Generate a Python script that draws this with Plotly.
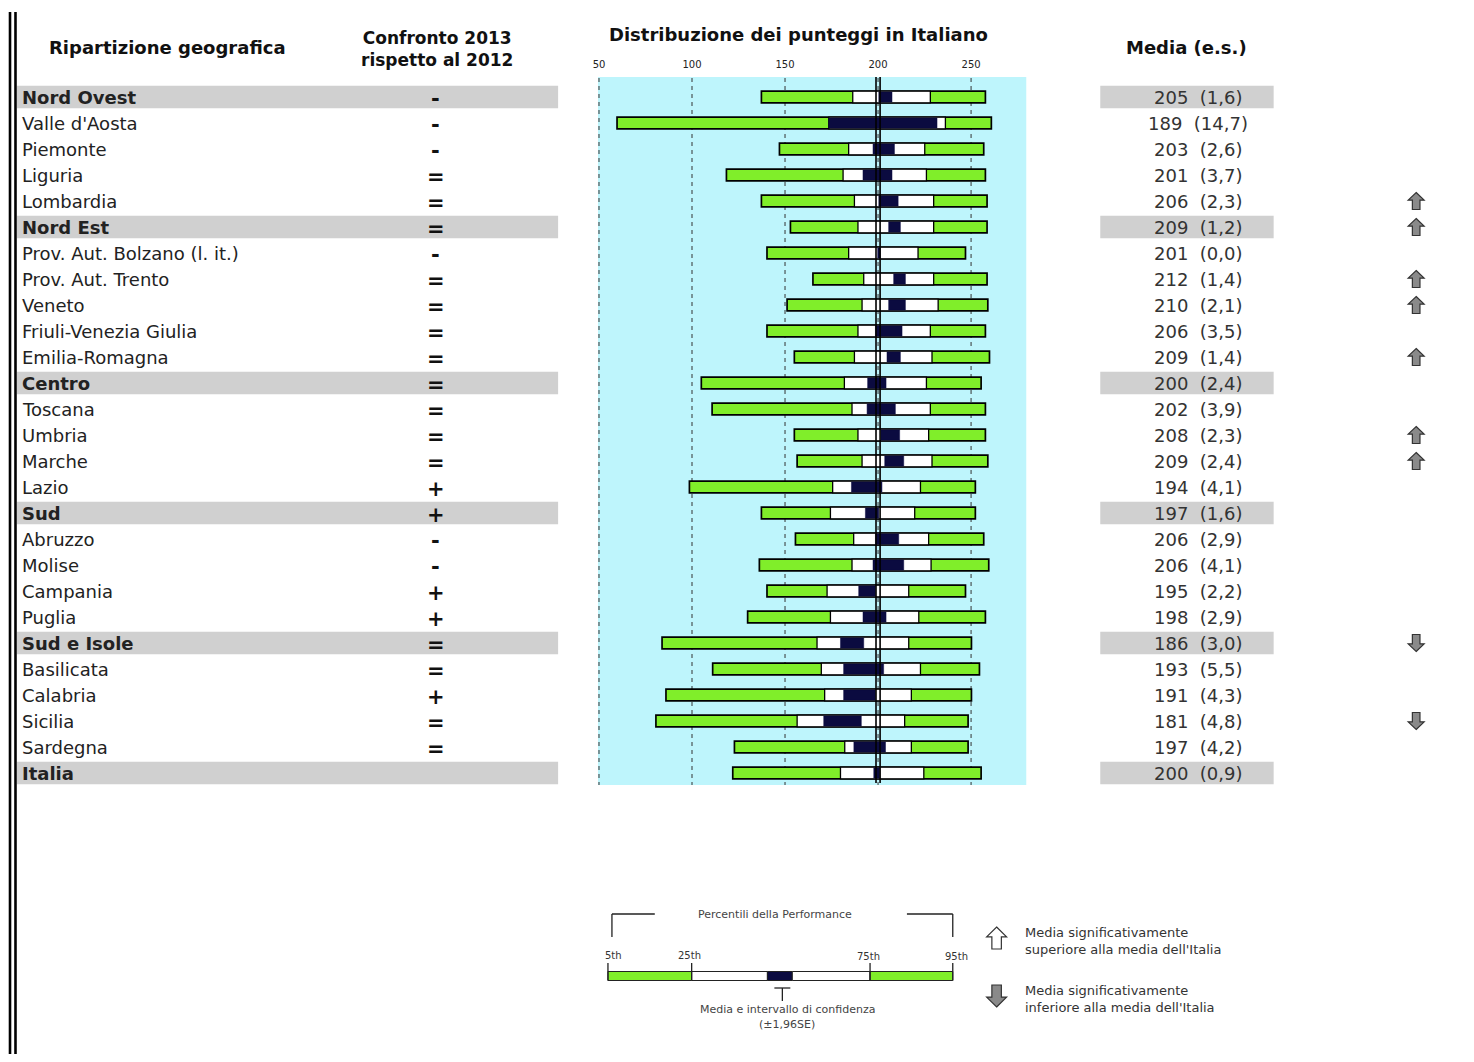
import plotly.graph_objects as go

# page size in pixels, rows are 26px apart starting at y=97
W, H = 1474, 1062
OFF = 8                      # browser body margin
FIG_W, FIG_H = W - 2 * OFF, H - 2 * OFF
ROW0, ROW_H = 97, 26

regions = ["Nord Ovest", "Valle d'Aosta", "Piemonte", "Liguria", "Lombardia",
           "Nord Est", "Prov. Aut. Bolzano (l. it.)", "Prov. Aut. Trento", "Veneto",
           "Friuli-Venezia Giulia", "Emilia-Romagna", "Centro", "Toscana", "Umbria",
           "Marche", "Lazio", "Sud", "Abruzzo", "Molise", "Campania", "Puglia",
           "Sud e Isole", "Basilicata", "Calabria", "Sicilia", "Sardegna", "Italia"]
macro = ["Nord Ovest", "Nord Est", "Centro", "Sud", "Sud e Isole", "Italia"]
confronto = ["-", "-", "-", "=", "=", "=", "-", "=", "=", "=", "=", "=", "=", "=",
             "=", "+", "+", "-", "-", "+", "+", "=", "=", "+", "=", "=", ""]
media = [205, 189, 203, 201, 206, 209, 201, 212, 210, 206, 209, 200, 202, 208, 209,
         194, 197, 206, 206, 195, 198, 186, 193, 191, 181, 197, 200]
es = ["1,6", "14,7", "2,6", "3,7", "2,3", "1,2", "0,0", "1,4", "2,1", "3,5", "1,4",
      "2,4", "3,9", "2,3", "2,4", "4,1", "1,6", "2,9", "4,1", "2,2", "2,9", "3,0",
      "5,5", "4,3", "4,8", "4,2", "0,9"]
# percentiles and confidence interval
p5 = [137.3, 59.7, 147.0, 118.5, 137.3, 152.9, 140.3, 165.0, 151.1, 140.3, 155.0,
      105.0, 110.8, 155.0, 156.5, 98.6, 137.3, 155.6, 136.2, 140.3, 129.9, 83.9,
      111.1, 86.0, 80.6, 122.8, 121.9]
p25 = [186.4, 173.5, 184.2, 181.2, 187.3, 189.2, 184.2, 192.3, 191.4, 189.2, 187.3,
       181.9, 186.0, 189.2, 191.4, 175.6, 174.4, 186.9, 186.0, 172.6, 174.4, 167.2,
       169.5, 171.3, 156.5, 182.1, 179.8]
ci_lo = [200.4, 173.5, 197.3, 191.9, 200.4, 205.7, 199.8, 208.4, 205.7, 198.6, 204.8,
         194.4, 194.1, 201.6, 203.6, 185.7, 193.2, 198.6, 197.3, 189.6, 191.9, 179.8,
         181.5, 181.5, 170.8, 187.0, 197.7]
ci_hi = [207.5, 231.7, 208.8, 207.5, 210.8, 212.0, 201.2, 214.7, 214.7, 212.9, 212.0,
         204.3, 209.3, 211.6, 213.8, 202.1, 200.4, 211.1, 213.8, 198.6, 204.3, 192.3,
         203.0, 198.6, 191.0, 204.0, 200.9]
p75 = [228.1, 236.2, 225.1, 226.0, 229.9, 229.9, 221.5, 229.9, 232.3, 228.1, 229.0,
       226.0, 228.1, 227.2, 229.0, 222.8, 219.7, 227.2, 228.5, 216.5, 221.9, 216.5,
       222.8, 217.9, 214.3, 217.9, 224.6]
p95 = [257.7, 260.9, 256.8, 257.7, 258.6, 258.6, 247.0, 258.6, 259.0, 257.7, 259.9,
       255.4, 257.7, 257.7, 259.0, 252.3, 252.3, 256.8, 259.5, 247.0, 257.7, 250.2,
       254.5, 250.2, 248.4, 248.4, 255.4]
signif = ["", "", "", "", "up", "up", "", "up", "up", "", "up", "", "", "up", "up",
          "", "", "", "", "", "", "down", "", "", "down", "", ""]
tick_vals = [50, 100, 150, 200, 250]
italia_mean = 200

GREEN = "#80ee2a"
NAVY = "#0b0b40"
CYAN = "#bef5fc"
GREYBAND = "#d0d0d0"
FONT = "DejaVu Sans"

rows = list(range(len(regions)))


def px(x):
    return (x - OFF) / FIG_W


def py(y):
    return 1 - (y - OFF) / FIG_H


def row(y):
    return (y - ROW0) / ROW_H


fig = go.Figure()

# bars: green 5-95, white 25-75, navy CI
fig.add_trace(go.Bar(y=rows, base=p5, x=[b - a for a, b in zip(p5, p95)],
                     orientation="h", width=0.45, hoverinfo="skip",
                     marker=dict(color=GREEN, line=dict(color="black", width=1.7))))
fig.add_trace(go.Bar(y=rows, base=p25, x=[b - a for a, b in zip(p25, p75)],
                     orientation="h", width=0.45, hoverinfo="skip",
                     marker=dict(color="white", line=dict(color="black", width=1.3))))
fig.add_trace(go.Bar(y=rows, base=ci_lo, x=[b - a for a, b in zip(ci_lo, ci_hi)],
                     orientation="h", width=0.39, hoverinfo="skip",
                     marker=dict(color=NAVY, line=dict(color=NAVY, width=0.5))))

shapes = []
# cyan panel
shapes.append(dict(type="rect", xref="x", yref="y", x0=49.46, x1=279.8,
                   y0=row(77), y1=row(785), fillcolor=CYAN, line_width=0, layer="below"))
for t in tick_vals:
    shapes.append(dict(type="line", xref="x", yref="y", x0=t, x1=t, y0=row(78), y1=row(785),
                       line=dict(color="#333", width=1, dash="4px,4px"), layer="below"))
# Italy mean double line
for dx in (-1.1, 1.1):
    shapes.append(dict(type="line", xref="x", yref="y", x0=italia_mean + dx, x1=italia_mean + dx,
                       y0=row(77), y1=row(783), line=dict(color="black", width=1.6)))

# grey bands on macro regions
for i, r in enumerate(regions):
    if r in macro:
        for x0, x1 in ((12, 555), (1099, 1273)):
            shapes.append(dict(type="rect", xref="paper", yref="y", x0=px(x0), x1=px(x1),
                               y0=i - 0.43, y1=i + 0.43, fillcolor=GREYBAND, line_width=0,
                               layer="below"))

# left double border
for x in (5, 10.5):
    shapes.append(dict(type="line", xref="paper", yref="paper", x0=px(x), x1=px(x),
                       y0=py(12), y1=py(H + 20), line=dict(color="black", width=2.6)))


def block_arrow(cx, cy, w, h, up, fill, ref):
    # cx, cy, w, h in pixels
    hw, sw = w / 2, w / 4.2
    if up:
        pts = [(cx, cy - h / 2), (cx + hw, cy - h / 2 + h * 0.45), (cx + sw, cy - h / 2 + h * 0.45),
               (cx + sw, cy + h / 2), (cx - sw, cy + h / 2), (cx - sw, cy - h / 2 + h * 0.45),
               (cx - hw, cy - h / 2 + h * 0.45)]
    else:
        pts = [(cx, cy + h / 2), (cx + hw, cy + h / 2 - h * 0.45), (cx + sw, cy + h / 2 - h * 0.45),
               (cx + sw, cy - h / 2), (cx - sw, cy - h / 2), (cx - sw, cy + h / 2 - h * 0.45),
               (cx - hw, cy + h / 2 - h * 0.45)]
    if ref == "y":
        conv = [(px(x), row(y)) for x, y in pts]
    else:
        conv = [(px(x), py(y)) for x, y in pts]
    path = "M " + " L ".join(f"{a:.5f},{b:.5f}" for a, b in conv) + " Z"
    return dict(type="path", xref="paper", yref=ref, path=path, fillcolor=fill,
                line=dict(color="#333", width=1.2))


for i, s in enumerate(signif):
    if s:
        shapes.append(block_arrow(1416, ROW0 + ROW_H * i, 16, 17, s == "up", "#8a8a8a", "y"))

# legend graphic
lg = [((609, 914), (609, 937)), ((609, 914), (652, 914)), ((905, 914), (951, 914)),
      ((951, 914), (951, 937)), ((780, 988), (780, 1001)), ((772, 988), (788, 988))]
for (x0, y0), (x1, y1) in lg:
    shapes.append(dict(type="line", xref="paper", yref="paper", x0=px(x0), x1=px(x1),
                       y0=py(y0), y1=py(y1), line=dict(color="#222", width=1.3)))
for x0, x1, c in ((605, 689, GREEN), (689, 765, "white"), (765, 790, NAVY),
                  (790, 868, "white"), (868, 951, GREEN)):
    shapes.append(dict(type="rect", xref="paper", yref="paper", x0=px(x0), x1=px(x1),
                       y0=py(980.5), y1=py(971.5), fillcolor=c, line=dict(color="#222", width=1)))
for x, ytop in ((605, 963), (689, 963), (868, 963), (951, 963)):
    shapes.append(dict(type="line", xref="paper", yref="paper", x0=px(x), x1=px(x),
                       y0=py(ytop), y1=py(980.5), line=dict(color="#222", width=1.3)))
shapes.append(block_arrow(995, 938, 20, 22, True, "white", "paper"))
shapes.append(block_arrow(995, 996, 20, 22, False, "#8a8a8a", "paper"))

ann = []


def txt(x, y, text, yref="paper", size=16, bold=False, color="#222", anchor="center"):
    ann.append(dict(x=px(x), y=y, xref="paper", yref=yref, text=f"<b>{text}</b>" if bold else text,
                    showarrow=False, xanchor=anchor, yanchor="middle", align=anchor,
                    font=dict(family=FONT, size=size, color=color)))


# headers
txt(163, py(48), "Ripartizione geografica", size=18, bold=True, color="#111")
txt(433, py(49), "Confronto 2013<br>rispetto al 2012", size=17, bold=True, color="#111")
txt(796, py(34), "Distribuzione dei punteggi in Italiano", size=18, bold=True, color="#111")
txt(1186, py(48), "Media (e.s.)", size=18, bold=True, color="#111")

for i, r in enumerate(regions):
    txt(15, i, r, yref="y", size=18, bold=r in macro, anchor="left")
    if confronto[i]:
        txt(432, i + 0.08, confronto[i], yref="y", size=21, bold=True, color="#111")
    txt(1197, i, f"{media[i]}  ({es[i]})", yref="y", size=18, color="#333")

# legend texts
txt(773, py(914), "Percentili della Performance", size=11, color="#444")
txt(611, py(955), "5th", size=10, color="#333")
txt(687, py(955), "25th", size=10, color="#333")
txt(866, py(956), "75th", size=10, color="#333")
txt(955, py(956), "95th", size=10, color="#333")
txt(785, py(1009), "Media e intervallo di confidenza", size=11, color="#444")
txt(785, py(1024), "(±1,96SE)", size=11, color="#444")
txt(1021, py(941), "Media significativamente<br>superiore alla media dell'Italia",
    size=13, color="#333", anchor="left")
txt(1021, py(999), "Media significativamente<br>inferiore alla media dell'Italia",
    size=13, color="#333", anchor="left")

fig.update_layout(
    width=FIG_W, height=FIG_H,
    margin=dict(l=0, r=0, t=0, b=0),
    paper_bgcolor="white", plot_bgcolor="rgba(0,0,0,0)",
    barmode="overlay", showlegend=False,
    shapes=shapes, annotations=ann,
    xaxis=dict(domain=[px(595), px(1025)], range=[49.46, 279.8], side="top",
               anchor="free", position=py(70), tickvals=tick_vals,
               tickfont=dict(family=FONT, size=10, color="#222"),
               showgrid=False, zeroline=False, showline=False, ticks=""),
    yaxis=dict(domain=[0, 1], range=[row(OFF + FIG_H), row(OFF)], visible=False),
)

fig.write_html("out.html")
